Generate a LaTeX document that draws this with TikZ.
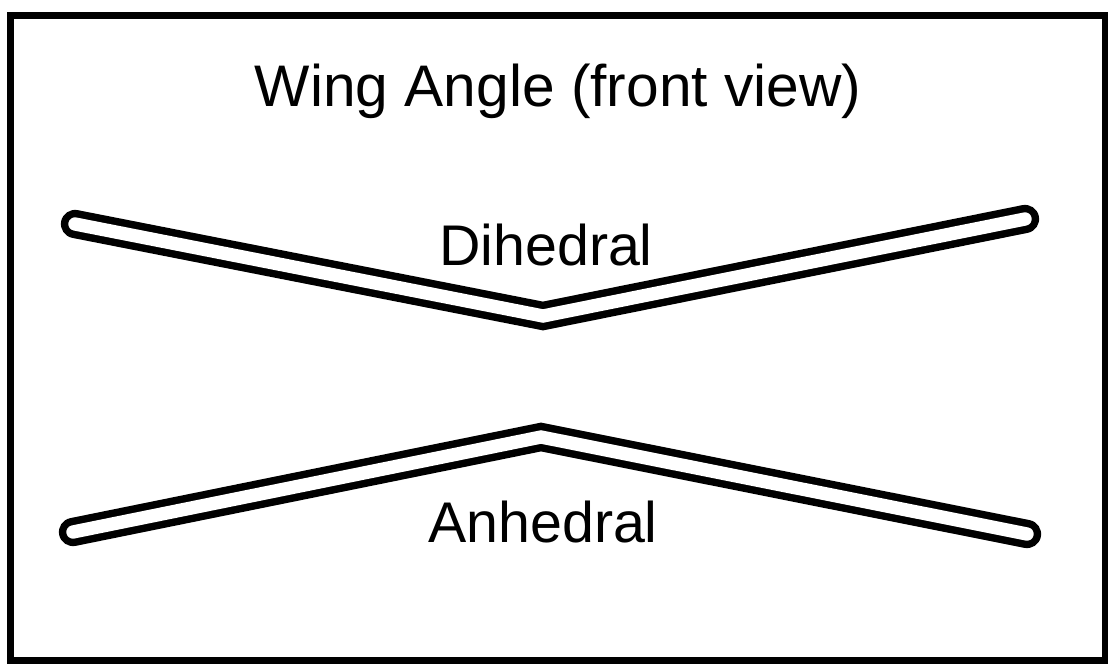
\documentclass[tikz,border=0pt]{standalone}
\usepackage{fontspec}
\setmainfont{Liberation Sans}
\begin{document}
\begin{tikzpicture}[x=0.75pt,y=-0.75pt,
  frame/.style={draw=black,line width=4.9pt},
  wing/.style={draw=black,line width=5.6pt,double=white,double distance=10pt,line cap=round,line join=miter},
  label/.style={anchor=base,inner sep=0pt,font=\fontsize{43}{43}\selectfont}]
\useasboundingbox (0,0) rectangle (1109,664);
\draw[frame] (10.5,15.5) rectangle (1105,660.5);
\node[label,font=\fontsize{44}{44}\selectfont] (title) at (558,106) {Wing Angle (front view)};
\node[label] (dih) at (546,265) {Dihedral};
\node[label] (anh) at (543,542) {Anhedral};
\coordinate (dl) at (75,224);
\coordinate (dc) at (543,316);
\coordinate (dr) at (1025,219);
\coordinate (al) at (73,532);
\coordinate (ac) at (541,437);
\coordinate (ar) at (1027,534);
\draw[wing] (dl) -- (dc) -- (dr);
\draw[wing] (al) -- (ac) -- (ar);
\end{tikzpicture}
\end{document}
